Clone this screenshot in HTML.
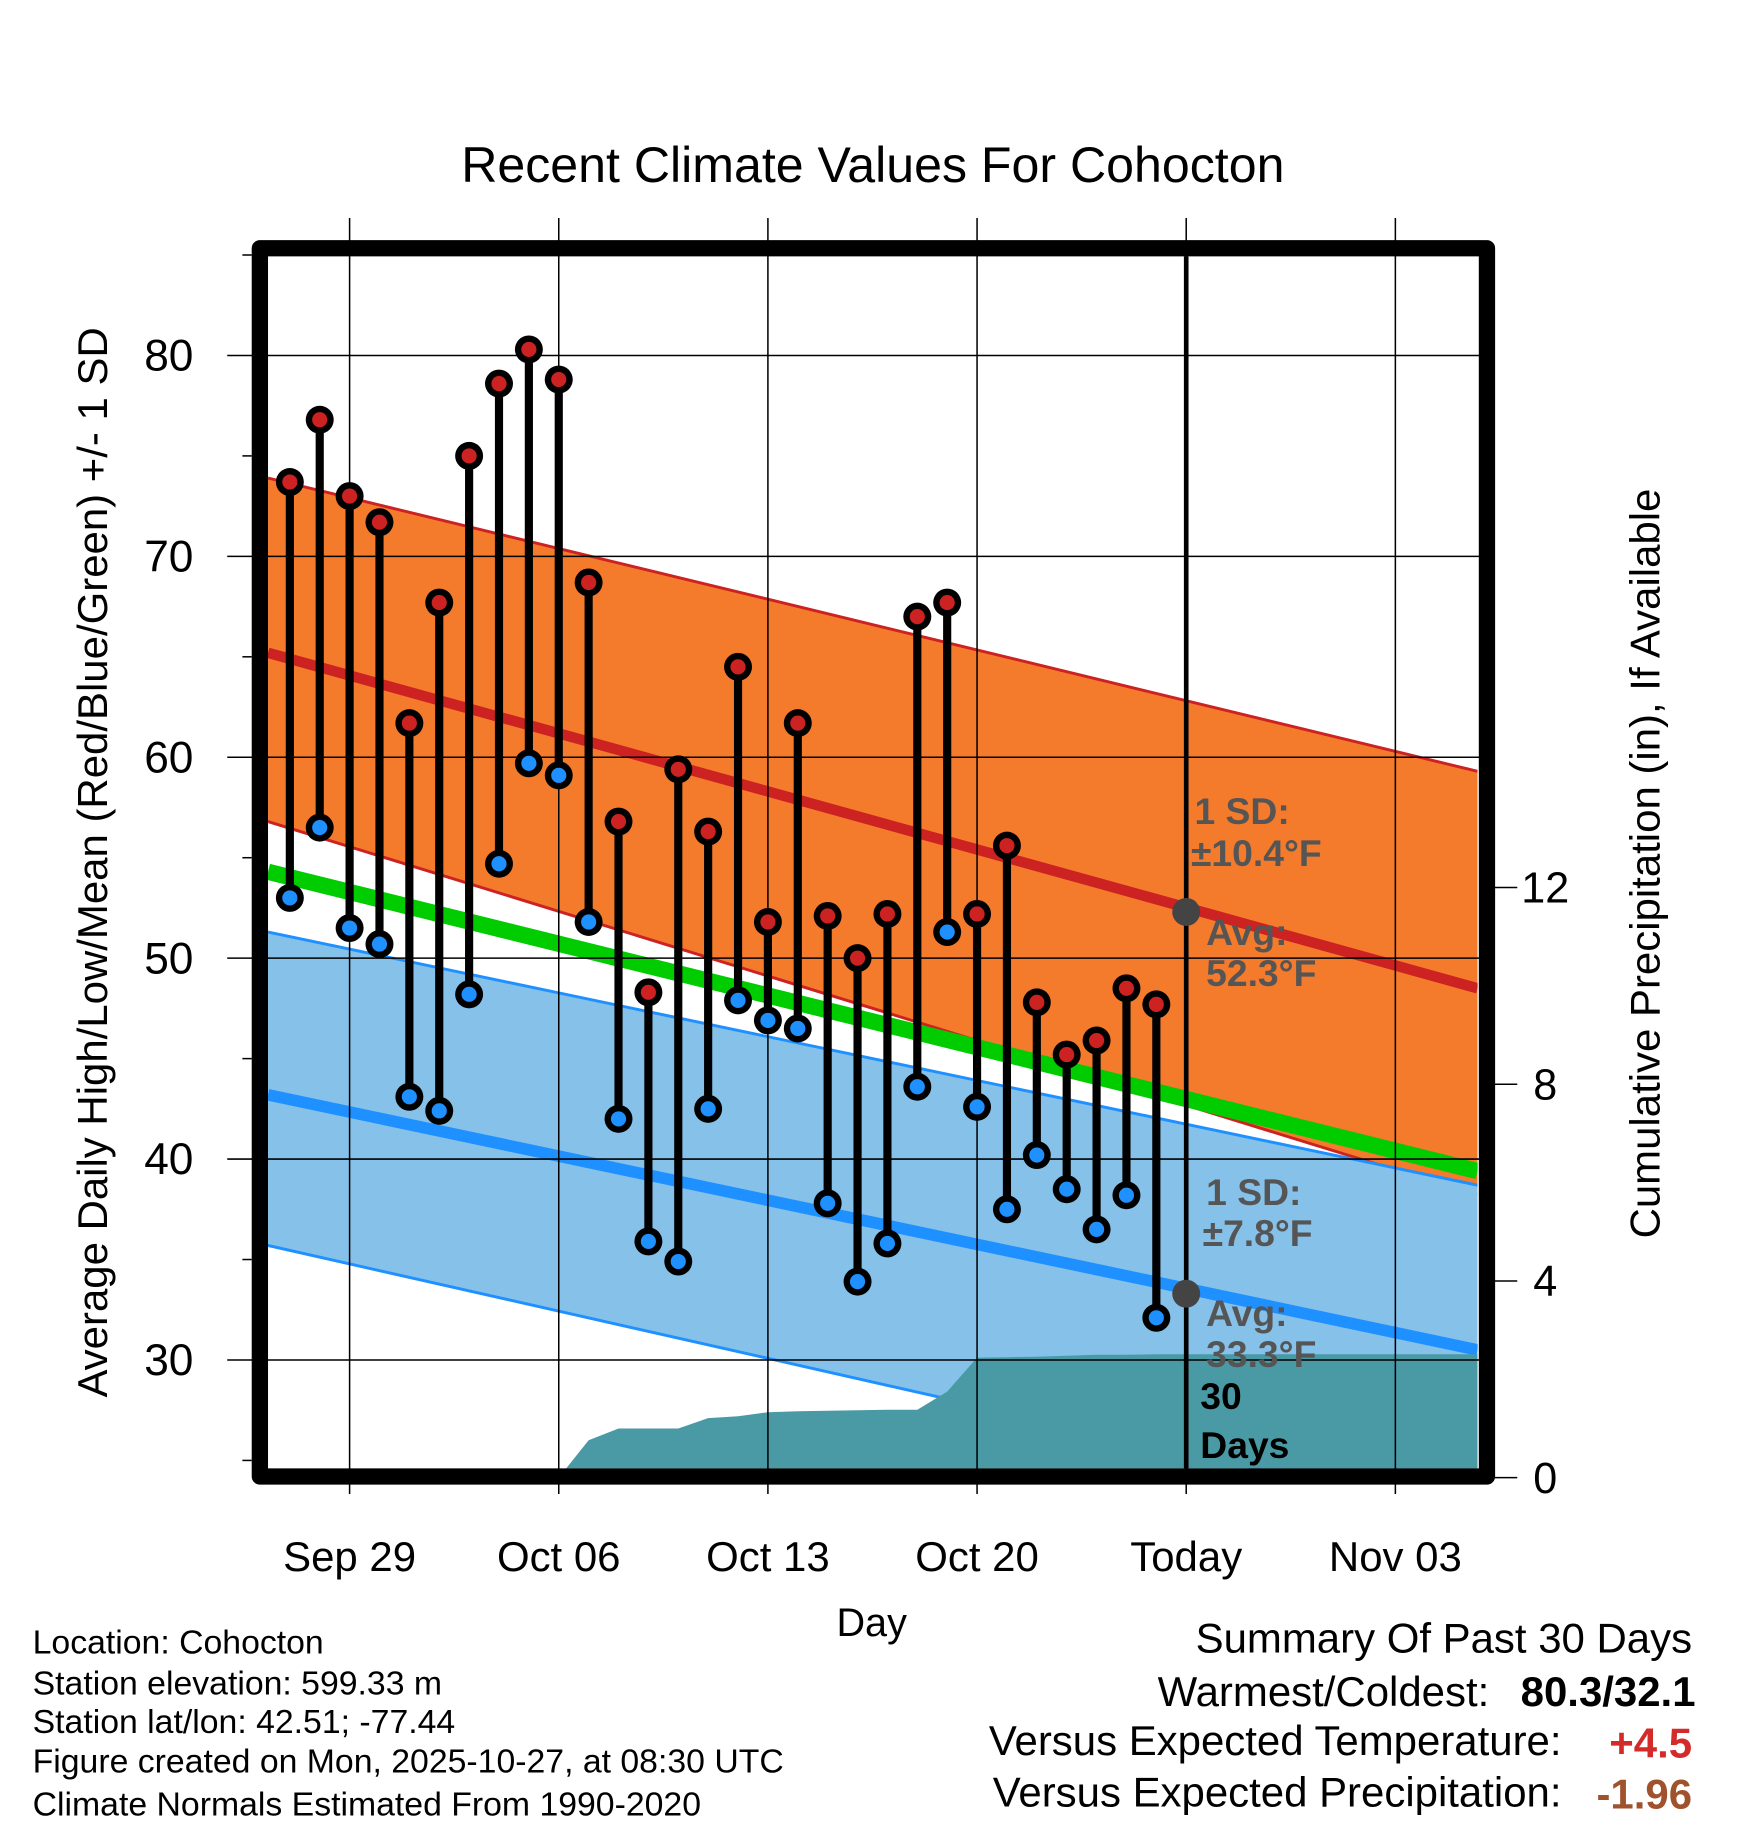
<!DOCTYPE html>
<html><head><meta charset="utf-8"><style>html,body{margin:0;padding:0;background:#fff}svg{display:block}text{font-family:"Liberation Sans",sans-serif}</style></head>
<body>
<svg id="chart" xmlns="http://www.w3.org/2000/svg" width="1748" height="1828" viewBox="0 0 1500 1568.6">
<defs><clipPath id="plotclip"><rect x="230" y="220" width="1038" height="1040"/></clipPath></defs>
<g id="bands" clip-path="url(#plotclip)"></g>
<g id="grid"></g>
<g id="marks"></g>
<rect x="223" y="213" width="1053" height="1054" fill="none" stroke="#000" stroke-width="14" stroke-linejoin="round"/>
<text x="749" y="156" font-size="43" text-anchor="middle">Recent Climate Values For Cohocton</text>
<text x="748" y="1404" font-size="34" text-anchor="middle">Day</text>
<text transform="translate(92,740) rotate(-90)" font-size="36" text-anchor="middle">Average Daily High/Low/Mean (Red/Blue/Green) +/- 1 SD</text>
<text transform="translate(1424,741) rotate(-90)" font-size="36" text-anchor="middle">Cumulative Precipitation (in), If Available</text>
<g font-size="29">
<text x="28" y="1419">Location: Cohocton</text>
<text x="28" y="1454">Station elevation: 599.33 m</text>
<text x="28" y="1487">Station lat/lon: 42.51; -77.44</text>
<text x="28" y="1521">Figure created on Mon, 2025-10-27, at 08:30 UTC</text>
<text x="28" y="1558">Climate Normals Estimated From 1990-2020</text>
</g>
<g font-size="36">
<text x="1452" y="1418" text-anchor="end">Summary Of Past 30 Days</text>
<text x="1278" y="1464" text-anchor="end">Warmest/Coldest:</text>
<text x="1455" y="1464" text-anchor="end" font-weight="bold">80.3/32.1</text>
<text x="1340" y="1506" text-anchor="end">Versus Expected Temperature:</text>
<text x="1452" y="1508" text-anchor="end" font-weight="bold" fill="#d42a2a">+4.5</text>
<text x="1340" y="1550" text-anchor="end">Versus Expected Precipitation:</text>
<text x="1452" y="1552" text-anchor="end" font-weight="bold" fill="#a0522d">-1.96</text>
</g>
</svg>
<script>
// data
const highs=[73.7,76.8,73.0,71.7,61.7,67.7,75.0,78.6,80.3,78.8,68.7,56.8,48.3,59.4,56.3,64.5,51.8,61.7,52.1,50.0,52.2,67.0,67.7,52.2,55.6,47.8,45.2,45.9,48.5,47.7];
const lows=[53.0,56.5,51.5,50.7,43.1,42.4,48.2,54.7,59.7,59.1,51.8,42.0,35.9,34.9,42.5,47.9,46.9,46.5,37.8,33.9,35.8,43.6,51.3,42.6,37.5,40.2,38.5,36.5,38.2,32.1];
const precip=[0,0,0,0,0,0,0,0,0,0,0.76,1.0,1.0,1.0,1.21,1.25,1.33,1.35,1.36,1.37,1.38,1.38,1.75,2.44,2.45,2.46,2.48,2.5,2.5,2.51];
const normDays=[-2.73,37.75];
const highMean=[65.2,48.5],highUpper=[73.9,59.3],highLower=[56.8,38.2];
const lowMean=[43.2,30.5],lowUpper=[51.3,38.7],lowLower=[35.7,22.1];
const meanNorm=[54.3,39.4];
const yTicks=[30,40,50,60,70,80];
const pTicks=[0,4,8,12];
const xTickDays=[0,7,14,21,28,35];
const xTickLabels=["Sep 29","Oct 06","Oct 13","Oct 20","Today","Nov 03"];
const firstDay=-2;
const todayDay=28;
const todayHigh=52.3,todayLow=33.3;

const NS="http://www.w3.org/2000/svg";
const X=d=>300+d*25.64;
const Y=v=>305+(80-v)*17.24;
const P=p=>1268-p*42.2;
function mk(parent,tag,attrs){const e=document.createElementNS(NS,tag);for(const k in attrs)e.setAttribute(k,attrs[k]);parent.appendChild(e);return e;}
const bands=document.getElementById('bands'),grid=document.getElementById('grid'),marks=document.getElementById('marks');
const x0=X(normDays[0]),x1=X(normDays[1]);
function band(up,lo,fill,stroke,name){
  const e=mk(bands,'polygon',{points:`${x0},${Y(up[0])} ${x1},${Y(up[1])} ${x1},${Y(lo[1])} ${x0},${Y(lo[0])}`,fill:fill});
  
  
  [up,lo].forEach(a=>{const l=mk(bands,'line',{x1:x0,y1:Y(a[0]),x2:x1,y2:Y(a[1]),stroke:stroke,'stroke-width':2.5});
    
    });
}
function mline(a,stroke,w,name){const l=mk(bands,'line',{x1:x0,y1:Y(a[0]),x2:x1,y2:Y(a[1]),stroke:stroke,'stroke-width':w});
  
  }
band(highUpper,highLower,'#f47a2c','#cc2222','high-sd-band');
band(lowUpper,lowLower,'#85c1e9','#1e90ff','low-sd-band');
mline(highMean,'#cc2222',9,'normal-high-line');
mline(lowMean,'#1e90ff',10,'normal-low-line');
mline(meanNorm,'#00cc00',14,'normal-mean-line');
let pts=`${X(firstDay)},${P(0)} `;
precip.forEach((p,i)=>{pts+=`${X(firstDay+i)},${P(p)} `;});
pts+=`${x1},${P(precip[precip.length-1])} ${x1},${P(0)}`;
const pa=mk(bands,'polygon',{points:pts,fill:'#4a9aa5'});


yTicks.forEach(v=>{const l=mk(grid,'line',{x1:195,x2:1270,y1:Y(v),y2:Y(v),stroke:'#000','stroke-width':1.3});
  
  
  const t=mk(grid,'text',{x:166,y:Y(v)+13,'font-size':38,'text-anchor':'end'});t.textContent=v;
  
  
  const m=mk(grid,'line',{x1:208,x2:216,y1:Y(v+5),y2:Y(v+5),stroke:'#000','stroke-width':1.3});
  
  });
[25].forEach(v=>{const m=mk(grid,'line',{x1:208,x2:216,y1:Y(v),y2:Y(v),stroke:'#000','stroke-width':1.3});
  
  });
xTickDays.forEach((d,i)=>{const l=mk(grid,'line',{x1:X(d),x2:X(d),y1:187,y2:1282,stroke:'#000','stroke-width':1.3});
  
  
  const t=mk(grid,'text',{x:X(d),y:1348,'font-size':36,'text-anchor':'middle'});t.textContent=xTickLabels[i];
  
  });
pTicks.forEach(p=>{const l=mk(grid,'line',{x1:1280,x2:1302,y1:P(p),y2:P(p),stroke:'#000','stroke-width':1.3});
  
  
  const t=mk(grid,'text',{x:1326,y:P(p)+13,'font-size':37,'text-anchor':'middle'});t.textContent=p;
  
  });
const tl=mk(marks,'line',{x1:X(todayDay),x2:X(todayDay),y1:220,y2:1260,stroke:'#000','stroke-width':4});


highs.forEach((h,i)=>{const x=X(firstDay+i);
  const s=mk(marks,'line',{x1:x,x2:x,y1:Y(h),y2:Y(lows[i]),stroke:'#000','stroke-width':7});
  
  });
highs.forEach((h,i)=>{const x=X(firstDay+i);
  [[h,'#cc2222','high-point'],[lows[i],'#1e90ff','low-point']].forEach(([v,c,n])=>{
    const o=mk(marks,'circle',{cx:x,cy:Y(v),r:12,fill:'#000'});
    
    
    const p=mk(marks,'circle',{cx:x,cy:Y(v),r:6.5,fill:c});
    
    });});
[todayHigh,todayLow].forEach(v=>{const c=mk(marks,'circle',{cx:X(todayDay),cy:Y(v),r:12,fill:'#444'});
  
  });
const ann=[[1025,707,'1 SD:','#555'],[1022,743,'±10.4°F','#555'],[1035,811,'Avg:','#555'],[1035,846,'52.3°F','#555'],
[1035,1034,'1 SD:','#555'],[1032,1069,'±7.8°F','#555'],[1035,1138,'Avg:','#555'],[1035,1173,'33.3°F','#555'],
[1030,1209,'30','#000'],[1030,1251,'Days','#000']];
ann.forEach(a=>{const t=mk(marks,'text',{x:a[0],y:a[1],'font-size':32,'font-weight':'bold',fill:a[3]});t.textContent=a[2];
  
  });
</script>
</body></html>
